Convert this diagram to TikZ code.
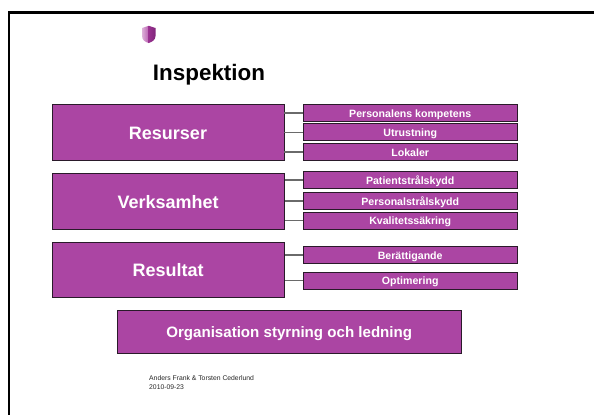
\documentclass[tikz,border=0pt]{standalone}
\usepackage{fontspec}
\setmainfont{Liberation Sans}
\definecolor{boxfill}{HTML}{AB45A3}
\definecolor{boxline}{HTML}{2A1A2A}
\definecolor{linkgray}{HTML}{6A6A6A}
\definecolor{shieldlightA}{HTML}{DDB0D8}
\definecolor{shieldlightB}{HTML}{B860B0}
\definecolor{shielddarkA}{HTML}{98308F}
\definecolor{shielddarkB}{HTML}{80267A}
\tikzset{
  x=1pt,y=-1pt,
  pbox/.style={draw=boxline,fill=boxfill,line width=0.9pt,text=white,inner sep=0pt,text depth=0pt},
  bigbox/.style={pbox,text height=14pt,font=\fontsize{18}{20}\selectfont\bfseries},
  orgbox/.style={pbox,text height=12.5pt,font=\fontsize{15.1}{17}\selectfont\bfseries},
  smallbox/.style={pbox,text height=8pt,minimum width=214.5pt,minimum height=17pt,font=\fontsize{10.6}{12}\selectfont\bfseries},
  link/.style={draw=linkgray,line width=1.1pt},
  frameline/.style={draw=black,line width=2.4pt},
}
\begin{document}
\begin{tikzpicture}
\useasboundingbox (0,0) rectangle (594,415);
\fill[white] (0,0) rectangle (594,415);
% frame
\coordinate (fa) at (594,12.4);
\coordinate (fb) at (8.7,12.4);
\coordinate (fc) at (8.7,415);
\draw[frameline] (fa) -- (fb) -- (fc);
% shield
\shade[left color=shieldlightA,right color=shieldlightB] (148.7,25.8) -- (142,28) -- (142,36) .. controls (142,40) and (145,42) .. (148.7,43) -- cycle;
\shade[left color=shielddarkA,right color=shielddarkB] (148.7,25.8) -- (155.5,28) -- (155.5,36) .. controls (155.5,40) and (152,42) .. (148.7,43) -- cycle;
% title
\node[text height=15.4pt,text depth=0pt,font=\fontsize{22.4}{24}\selectfont\bfseries,text=black,inner sep=0pt] (title) at (209,73) {Inspektion};
% large boxes
\node[bigbox,minimum width=232pt,minimum height=56pt] (res) at (168,132.5) {Resurser};
\node[bigbox,minimum width=232.5pt,minimum height=56pt] (ver) at (168.2,201) {Verksamhet};
\node[bigbox,minimum width=232.5pt,minimum height=55.5pt] (rsl) at (168.2,269.7) {Resultat};
\node[orgbox,minimum width=344.5pt,minimum height=42.5pt] (org) at (289.2,331.7) {Organisation styrning och ledning};
% small boxes
\node[smallbox] (s1) at (410.2,113) {Personalens kompetens};
\node[smallbox] (s2) at (410.2,132.3) {Utrustning};
\node[smallbox] (s3) at (410.2,152) {Lokaler};
\node[smallbox] (s4) at (410.2,180) {Patientstrålskydd};
\node[smallbox] (s5) at (410.2,201) {Personalstrålskydd};
\node[smallbox] (s6) at (410.2,220.5) {Kvalitetssäkring};
\node[smallbox] (s7) at (410.2,255) {Berättigande};
\node[smallbox] (s8) at (410.2,280.5) {Optimering};
% connectors
\foreach \a/\b in {res/s1,res/s2,res/s3,ver/s4,ver/s5,ver/s6,rsl/s7,rsl/s8}
  \draw[link] (\b.west) -- (\a.east |- \b.west);
% footer
\node[font=\fontsize{6.8}{9.3}\selectfont,text=black!85,anchor=north west,align=left,inner sep=0pt] (foot) at (149,375) {Anders Frank \& Torsten Cederlund\\2010-09-23};
\end{tikzpicture}
\end{document}
